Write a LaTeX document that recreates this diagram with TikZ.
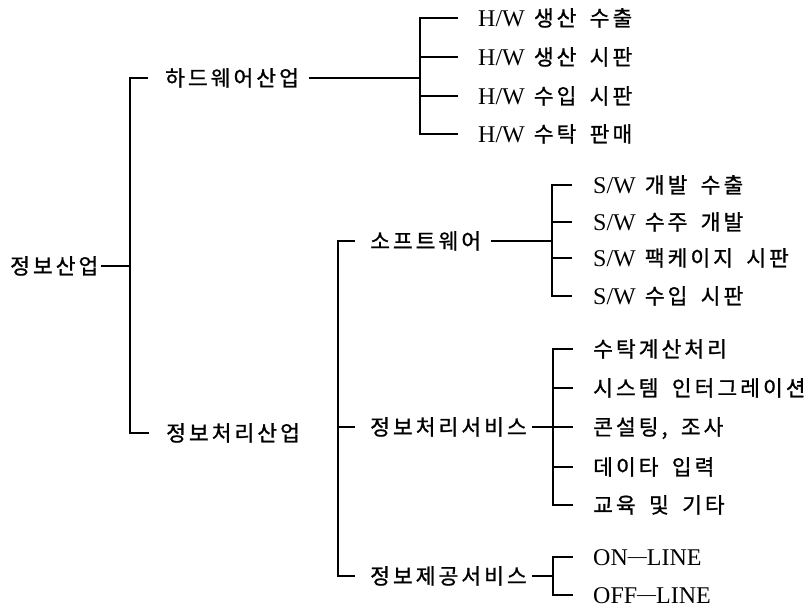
\documentclass[tikz,border=0pt]{standalone}
\usepackage{fontspec}
\setmainfont{Liberation Serif}
\newfontfamily\krfont[LetterSpace=14,FakeBold=1,WordSpace=1.7]{Noto Sans CJK KR}
\newcommand{\ko}[1]{{\fontsize{21.5}{26}\krfont #1}}
\newcommand{\lsp}{\hspace{9pt}}
\begin{document}
\begin{tikzpicture}[x=1pt,y=-1pt,
  lbl/.style={anchor=west,inner sep=0pt,text height=17pt,text depth=1pt,font=\fontsize{21.5}{26}\selectfont},
  lat/.style={lbl,font=\fontsize{24}{28}\selectfont},
  ln/.style={line width=1.3pt}]
\useasboundingbox (0,0) rectangle (806,608);
% nodes
\node[lbl] (r) at (10,266) {\ko{정보산업}};
\node[lbl] (hw) at (165,78) {\ko{하드웨어산업}};
\node[lbl] (ip) at (166,433) {\ko{정보처리산업}};
\node[lat] (hw1) at (478,18) {H/W\lsp\ko{생산 수출}};
\node[lat] (hw2) at (478,57) {H/W\lsp\ko{생산 시판}};
\node[lat] (hw3) at (478,96) {H/W\lsp\ko{수입 시판}};
\node[lat] (hw4) at (478,134) {H/W\lsp\ko{수탁 판매}};
\node[lbl] (sw) at (370,241) {\ko{소프트웨어}};
\node[lbl] (ps) at (370,427) {\ko{정보처리서비스}};
\node[lbl] (pv) at (370,576) {\ko{정보제공서비스}};
\node[lat] (sw1) at (593,185) {S/W\lsp\ko{개발 수출}};
\node[lat] (sw2) at (593,222) {S/W\lsp\ko{수주 개발}};
\node[lat] (sw3) at (593,258) {S/W\lsp\ko{팩케이지 시판}};
\node[lat] (sw4) at (593,296) {S/W\lsp\ko{수입 시판}};
\node[lbl] (ps1) at (593,349) {\ko{수탁계산처리}};
\node[lbl] (ps2) at (593,388) {\ko{시스템 인터그레이션}};
\node[lbl] (ps3) at (593,427) {\ko{콘설팅, 조사}};
\node[lbl] (ps4) at (593,467) {\ko{데이타 입력}};
\node[lbl] (ps5) at (593,505) {\ko{교육 및 기타}};
\node[lat] (pv1) at (593,557) {ON\raisebox{2.5pt}{\fontsize{19}{20}\selectfont —}LINE};
\node[lat] (pv2) at (593,595) {OFF\raisebox{2.5pt}{\fontsize{19}{20}\selectfont —}LINE};
% bracket coordinates
\coordinate (b0) at (130,265);
\coordinate (b1) at (420,76);
\coordinate (b2) at (338,410);
\coordinate (b3) at (552,242);
\coordinate (b4) at (553,427);
\coordinate (b5) at (553,576);
% root
\draw[ln] ([xshift=2pt]r.east) -- (r.east -| b0);
\draw[ln] ([xshift=-17pt]hw.west) -- (hw.west -| b0) -- (ip.west -| b0) -- ([xshift=-17pt]ip.west);
% hardware
\draw[ln] ([xshift=10pt]hw.east) -- (hw.east -| b1);
\draw[ln] ([xshift=-20pt]hw1.west) -- (hw1.west -| b1) -- (hw4.west -| b1) -- ([xshift=-20pt]hw4.west);
\foreach \n in {hw2,hw3} \draw[ln] (\n.west -| b1) -- ([xshift=-20pt]\n.west);
% information processing
\draw[ln] ([xshift=-15pt]sw.west) -- (sw.west -| b2) -- (pv.west -| b2) -- ([xshift=-15pt]pv.west);
\draw[ln] (ps.west -| b2) -- ([xshift=-15pt]ps.west);
% software
\draw[ln] ([xshift=10pt]sw.east) -- (sw.east -| b3);
\draw[ln] ([xshift=-21pt]sw1.west) -- (sw1.west -| b3) -- (sw4.west -| b3) -- ([xshift=-21pt]sw4.west);
\foreach \n in {sw2,sw3} \draw[ln] (\n.west -| b3) -- ([xshift=-21pt]\n.west);
% processing services
\draw[ln] ([xshift=5pt]ps.east) -- (ps.east -| b4);
\draw[ln] ([xshift=-20pt]ps1.west) -- (ps1.west -| b4) -- (ps5.west -| b4) -- ([xshift=-20pt]ps5.west);
\foreach \n in {ps2,ps3,ps4} \draw[ln] (\n.west -| b4) -- ([xshift=-20pt]\n.west);
% provider services
\draw[ln] ([xshift=5pt]pv.east) -- (pv.east -| b5);
\draw[ln] ([xshift=-20pt]pv1.west) -- (pv1.west -| b5) -- (pv2.west -| b5) -- ([xshift=-20pt]pv2.west);
\end{tikzpicture}
\end{document}
